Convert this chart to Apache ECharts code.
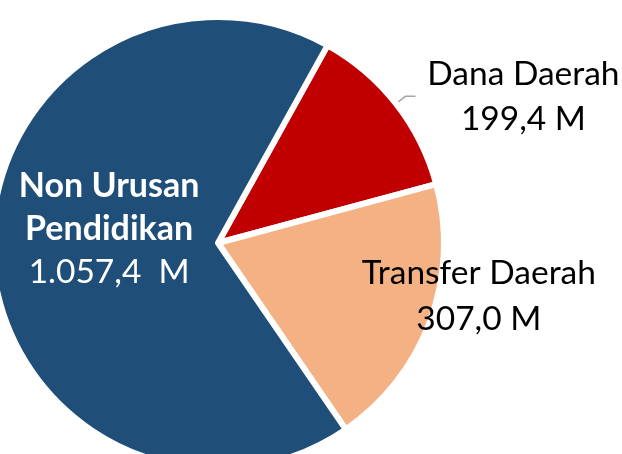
<!DOCTYPE html>
<html>
<head>
<meta charset="UTF-8">
<title>Pie</title>
<script src="https://cdn.jsdelivr.net/npm/echarts@6/dist/echarts.min.js"></script>
<style>
  html, body { margin: 0; padding: 0; background: #fff; }
</style>
</head>
<body>
	<div id="container" style="width:622px;height:454px;"></div>
	<script type="text/javascript">
	// data
	var names = ['Dana Daerah', 'Transfer Daerah', 'Non Urusan\nPendidikan'];
	var values = [199.4, 307.0, 1057.4];
	var valueText = ['199,4 M', '307,0 M', '1.057,4  M'];
	var colors = ['#C00000', '#F4B183', '#1F4E79'];

	var dom = document.getElementById("container");
	var myChart = echarts.init(dom);
	var font = 'Lato, "Noto Sans", sans-serif';

	var seriesData = [];
	for (var i = 0; i < names.length; i++) {
		seriesData.push({ name: names[i], value: values[i], itemStyle: { color: colors[i] } });
	}
	// Dana Daerah: outside with short leader line
	seriesData[0].label = {
		position: 'outside',
		formatter: '{a|Dana Daerah}\n{a|' + valueText[0] + '}',
		rich: { a: { fontFamily: font, fontSize: 33.5, color: '#000', lineHeight: 45, width: 206, align: 'center' } }
	};
	seriesData[0].labelLine = { show: true, length: 12, length2: 10, lineStyle: { color: '#A6A6A6', width: 1.5 } };
	// Transfer Daerah
	seriesData[1].label = {
		position: 'inside',
		formatter: '{a|Transfer Daerah}\n{a|' + valueText[1] + '}',
		rich: { a: { fontFamily: font, fontSize: 33.5, color: '#000', lineHeight: 46, align: 'center' } }
	};
	seriesData[1].labelLine = { show: false };
	// Non Urusan Pendidikan
	seriesData[2].label = {
		position: 'inside',
		formatter: '{b|Non Urusan}\n{b|Pendidikan}\n{c|' + valueText[2] + '}',
		rich: {
			b: { fontFamily: font, fontSize: 34, fontWeight: 'bold', color: '#fff', lineHeight: 43, align: 'center' },
			c: { fontFamily: font, fontSize: 33.5, color: '#fff', lineHeight: 43, align: 'center' }
		}
	};
	seriesData[2].labelLine = { show: false };

	var option = {
		animation: false,
		series: [{
			type: 'pie',
			center: [218, 243],
			radius: 226,
			startAngle: 61,
			clockwise: true,
			avoidLabelOverlap: false,
			itemStyle: { borderColor: '#fff', borderWidth: 6 },
			label: { show: true },
			labelLayout: function (params) {
				if (params.dataIndex === 1) {
					return { dx: 152, dy: 13 };
				}
				if (params.dataIndex === 2) {
					return { dx: 7, dy: -19 };
				}
				return {};
			},
			data: seriesData
		}]
	};
	myChart.setOption(option);
    </script>
</body>
</html>
